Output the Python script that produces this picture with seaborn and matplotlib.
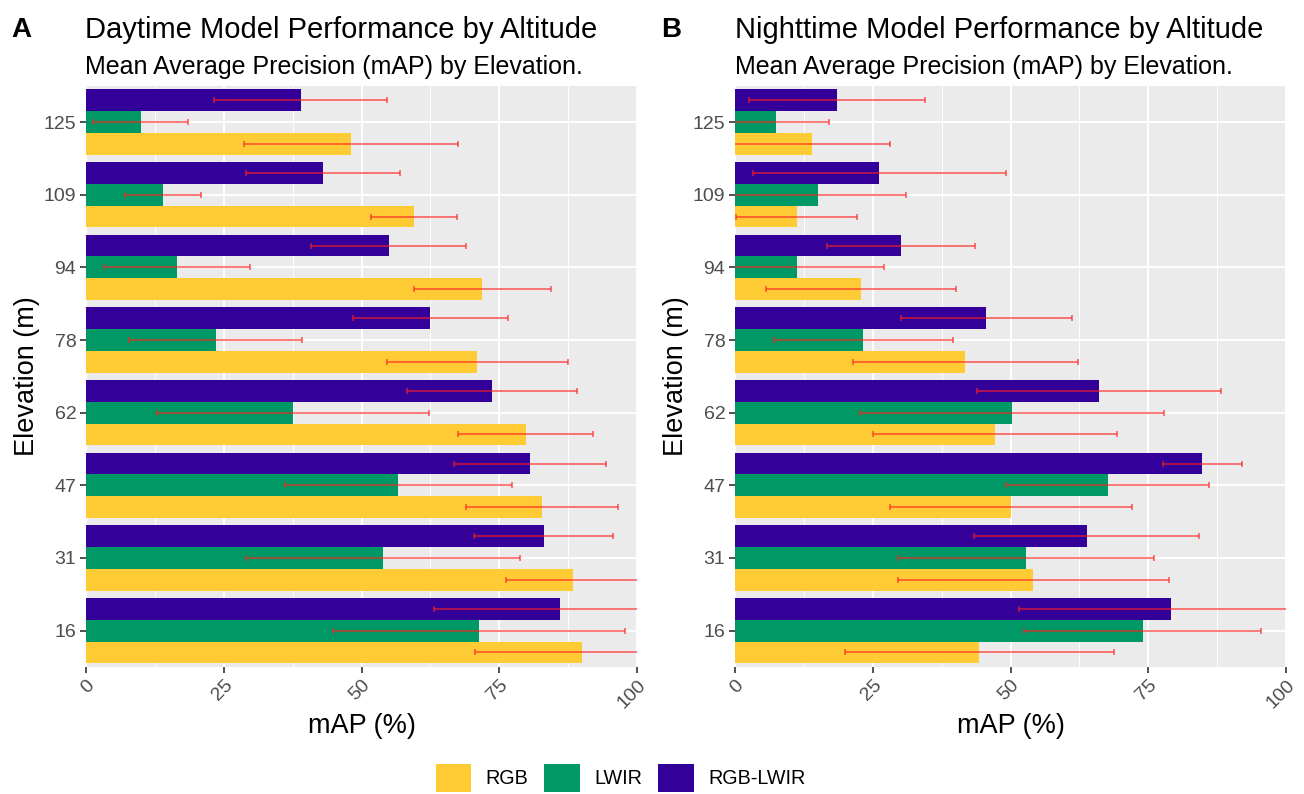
import numpy as np
import pandas as pd
import seaborn as sns
import matplotlib.pyplot as plt
from matplotlib.patches import Patch
from matplotlib.ticker import MultipleLocator

# Elevation categories, top to bottom
elevations = ["125", "109", "94", "78", "62", "47", "31", "16"]
sensors = ["RGB", "LWIR", "RGB-LWIR"]

# Daytime mAP (mean and sd), one list per sensor, in elevation order
day_rgb = [48.1, 59.5, 71.9, 71.0, 79.8, 82.7, 88.4, 90.1]
day_rgb_sd = [19.5, 7.8, 12.4, 16.4, 12.2, 13.8, 12.2, 19.5]
day_lwir = [9.9, 13.9, 16.5, 23.5, 37.6, 56.7, 53.9, 71.3]
day_lwir_sd = [8.6, 6.9, 13.2, 15.7, 24.7, 20.6, 24.8, 26.5]
day_fused = [39.0, 43.0, 54.9, 62.5, 73.7, 80.6, 83.1, 86.0]
day_fused_sd = [15.7, 14.0, 14.1, 14.1, 15.4, 13.8, 12.6, 22.9]

# Nighttime mAP
night_rgb = [13.9, 11.2, 22.9, 41.8, 47.2, 50.1, 54.1, 44.3]
night_rgb_sd = [14.3, 11.0, 17.2, 20.4, 22.1, 22.0, 24.6, 24.4]
night_lwir = [7.5, 15.0, 11.3, 23.3, 50.2, 67.6, 52.8, 74.0]
night_lwir_sd = [9.6, 16.1, 15.7, 16.2, 27.6, 18.5, 23.3, 21.5]
night_fused = [18.5, 26.2, 30.1, 45.6, 66.1, 84.8, 63.8, 79.1]
night_fused_sd = [16.0, 23.0, 13.5, 15.5, 22.1, 7.2, 20.4, 27.6]

colors = {"RGB": "#FFCB34", "LWIR": "#009966", "RGB-LWIR": "#330099"}


def make_df(rgb, rgb_sd, lwir, lwir_sd, fused, fused_sd):
    rows = []
    for vals, sds, name in [(rgb, rgb_sd, "RGB"), (lwir, lwir_sd, "LWIR"),
                            (fused, fused_sd, "RGB-LWIR")]:
        for e, v, s in zip(elevations, vals, sds):
            rows.append({"elev": e, "map": v, "sd": s, "sensor": name})
    return pd.DataFrame(rows)


day_df = make_df(day_rgb, day_rgb_sd, day_lwir, day_lwir_sd, day_fused, day_fused_sd)
night_df = make_df(night_rgb, night_rgb_sd, night_lwir, night_lwir_sd, night_fused, night_fused_sd)

plt.rcParams["font.family"] = ["Liberation Sans", "DejaVu Sans"]

fig = plt.figure(figsize=(13.04, 7.94), dpi=100)
ax1 = fig.add_axes([0.066, 0.160, 0.4225, 0.732])
ax2 = fig.add_axes([0.5637, 0.160, 0.4225, 0.732])

hue_order = ["RGB-LWIR", "LWIR", "RGB"]  # top to bottom inside a group

for ax, df in [(ax1, day_df), (ax2, night_df)]:
    sns.barplot(data=df, y="elev", x="map", hue="sensor", order=elevations,
                hue_order=hue_order, palette=colors, width=0.9, orient="h",
                errorbar=None, legend=False, saturation=1, linewidth=0, ax=ax)
    # error bars centred on each dodged bar
    for cont, name in zip(ax.containers, hue_order):
        sub = df[df["sensor"] == name].set_index("elev").loc[elevations]
        ys = [b.get_y() + b.get_height() / 2 for b in cont]
        xs = [b.get_width() for b in cont]
        ax.errorbar(xs, ys, xerr=sub["sd"].values, fmt="none", ecolor="#FF2020",
                    alpha=0.75, elinewidth=1.1, capsize=2.5, capthick=1.1, zorder=5)

    ax.set_facecolor("#EBEBEB")
    for s in ax.spines.values():
        s.set_visible(False)
    ax.set_xlim(0, 100)
    ax.set_ylim(7.5, -0.5)
    ax.set_xticks([0, 25, 50, 75, 100])
    ax.xaxis.set_minor_locator(MultipleLocator(12.5))
    ax.grid(which="major", color="white", linewidth=1.4)
    ax.grid(which="minor", axis="x", color="white", linewidth=0.7)
    ax.set_axisbelow(True)
    ax.tick_params(which="major", length=4, width=1.2, color="#333333",
                   labelcolor="#4D4D4D", labelsize=14, pad=3)
    ax.tick_params(which="minor", length=0)
    plt.setp(ax.get_xticklabels(), rotation=45, ha="right", va="top",
             rotation_mode="anchor")
    ax.set_xlabel("mAP (%)", fontsize=19.5, color="black", labelpad=1)
    ax.set_ylabel("Elevation (m)", fontsize=19.5, color="black", labelpad=3)

fig.text(0.009, 0.962, "A", fontsize=20, fontweight="bold", va="center")
fig.text(0.065, 0.962, "Daytime Model Performance by Altitude", fontsize=21, va="center")
fig.text(0.065, 0.916, "Mean Average Precision (mAP) by Elevation.", fontsize=18, va="center")
fig.text(0.507, 0.962, "B", fontsize=20, fontweight="bold", va="center")
fig.text(0.5637, 0.962, "Nighttime Model Performance by Altitude", fontsize=21, va="center")
fig.text(0.5637, 0.916, "Mean Average Precision (mAP) by Elevation.", fontsize=18, va="center")

handles = [Patch(facecolor=colors[s], edgecolor="none", label=s) for s in sensors]
fig.legend(handles=handles, loc="center", bbox_to_anchor=(0.476, 0.02), ncol=3,
           frameon=False, fontsize=14.2, handlelength=1.8, handleheight=1.8,
           handletextpad=0.75, columnspacing=0.8)

fig.savefig("out.png", dpi=100)
